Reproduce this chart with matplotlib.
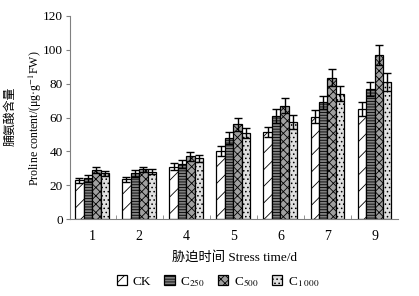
import numpy as np
import matplotlib
matplotlib.use("Agg")
import matplotlib.pyplot as plt

plt.rcParams['font.family'] = ['Liberation Serif', 'Noto Sans CJK SC']
plt.rcParams['mathtext.fontset'] = 'stix'
plt.rcParams['hatch.linewidth'] = 0.6

days = ['1', '2', '4', '5', '6', '7', '9']
series = ['CK', 'C$_{250}$', 'C$_{500}$', 'C$_{1\\ 000}$']

ck = [23, 23.5, 31, 40, 51.5, 60.5, 65]
c250 = [24, 27, 32.5, 48, 61, 69, 77]
c500 = [29, 29.5, 37, 56, 67, 83.5, 97]
c1000 = [27, 28, 36, 51, 57.5, 74, 81]

ck_err = [1.5, 1.5, 2, 3, 3, 4, 4]
c250_err = [2, 2, 2.5, 3.5, 4, 4, 4]
c500_err = [2, 1.5, 2.5, 4, 4.5, 5, 6]
c1000_err = [1.5, 1.5, 2, 3, 4, 4.5, 5.5]

values = [ck, c250, c500, c1000]
errors = [ck_err, c250_err, c500_err, c1000_err]
fills = ['white', '#808080', '#a0a0a0', '#e0e0e0']
hatches = ['//', '------', 'xxxx', '....']

fig = plt.figure(figsize=(4.19, 2.96), dpi=100)
ax = fig.add_axes([0.167, 0.26, 0.783, 0.686])

x = np.arange(len(days))
w = 0.18
for i in range(4):
    ax.bar(x + (i - 1.5) * w, values[i], w, yerr=errors[i], color=fills[i],
           edgecolor='black', linewidth=0.9, hatch=hatches[i], label=series[i],
           error_kw=dict(ecolor='black', elinewidth=1, capsize=3, capthick=1))

ax.set_xlim(-0.47, 6.5)
ax.set_ylim(0, 120)
ax.set_yticks(range(0, 121, 20))
ax.set_xticks(x)
ax.set_xticklabels(days)
ax.set_xticks(x[:-1] + 0.5, minor=True)
ax.tick_params(axis='x', which='major', length=0, pad=8, labelsize=10)
ax.tick_params(axis='x', which='minor', length=3, direction='in', color='gray')
ax.tick_params(axis='y', length=3, color='gray', labelsize=9.5, pad=2)

for s in ['top', 'right']:
    ax.spines[s].set_visible(False)
for s in ['left', 'bottom']:
    ax.spines[s].set_color('gray')

# two-line y label, placed by hand
fig.text(11 / 419, 1 - 116 / 296, '脯氨酸含量', rotation=90, ha='center', va='center',
         fontsize=8.6)
fig.text(35 / 419, 1 - 118 / 296, 'Proline content/(μg·g$^{-1}$FW)', rotation=90,
         ha='center', va='center', fontsize=8.6)
ax.set_xlabel('胁迫时间 Stress time/d', fontsize=9.5, labelpad=6)

fig.legend(loc='lower center', bbox_to_anchor=(0.52, -0.015), ncol=4, frameon=False,
           fontsize=9.5, handlelength=0.8, handleheight=0.8, columnspacing=1.0,
           handletextpad=0.4)

fig.savefig('out.png', dpi=100)
